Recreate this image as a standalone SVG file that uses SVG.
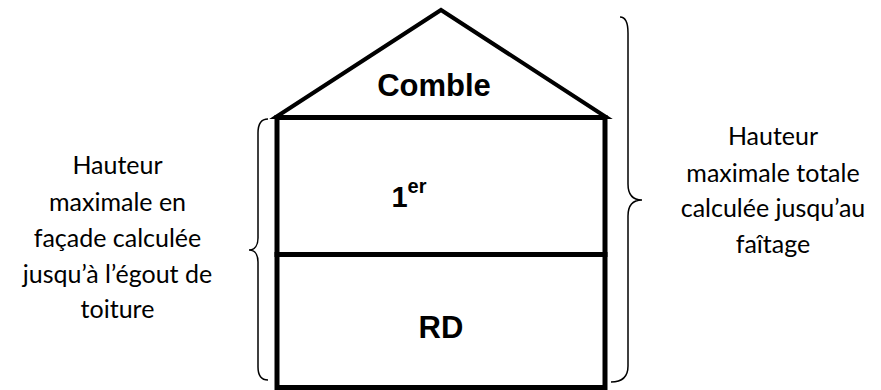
<svg xmlns="http://www.w3.org/2000/svg" width="881" height="390" viewBox="0 0 881 390">
  <style>
    .wall { fill: none; stroke: #000; stroke-width: 5; stroke-linejoin: miter; }
    .roof { fill: #fff; stroke: #000; stroke-width: 4; stroke-linejoin: miter; }
    .brace { fill: none; stroke: #000; stroke-width: 1.5; }
    .lbl { font-family: Lato, "Liberation Sans", sans-serif; font-size: 25px; fill: #000; text-anchor: middle; }
    .floor { font-family: "Liberation Sans", Arial, sans-serif; font-weight: bold; fill: #000; text-anchor: middle; }
  </style>
  <rect width="881" height="390" fill="#fff"/>

  <g id="roof">
    <polygon class="roof" points="276,117 441,10 606,117"/>
    <text class="floor" x="434" y="96" font-size="31">Comble</text>
  </g>

  <g id="floor-1">
    <rect class="wall" x="277" y="117.5" width="328" height="137"/>
    <text class="floor" x="409" y="207" font-size="29">1<tspan font-size="20" dy="-14">er</tspan></text>
  </g>

  <g id="floor-rd">
    <rect class="wall" x="277" y="254.5" width="328" height="133"/>
    <text class="floor" x="441" y="338" font-size="31">RD</text>
  </g>

  <g id="connectors">
    <path class="brace" d="M268,119 C261,119 258,124 258,133 L258,238 C258,245 255,250 249,250 C255,250 258,255 258,262 L258,367 C258,376 261,380 268,380"/>
    <path class="brace" d="M620,17 C625,17 628,23 628,33 L628,184 C628,194 632,200 642,200 C632,200 628,206 628,216 L628,366 C628,376 623,382 611,382"/>
  </g>

  <g id="label-facade">
    <text class="lbl" x="117.5" y="174">Hauteur</text>
    <text class="lbl" x="117.5" y="210.5">maximale en</text>
    <text class="lbl" x="117.5" y="246.5">façade calculée</text>
    <text class="lbl" x="117.5" y="282.5">jusqu’à l’égout de</text>
    <text class="lbl" x="117.5" y="318">toiture</text>
  </g>

  <g id="label-totale">
    <text class="lbl" x="773" y="145">Hauteur</text>
    <text class="lbl" x="773" y="181.5">maximale totale</text>
    <text class="lbl" x="773" y="217">calculée jusqu’au</text>
    <text class="lbl" x="773" y="253">faîtage</text>
  </g>
</svg>
